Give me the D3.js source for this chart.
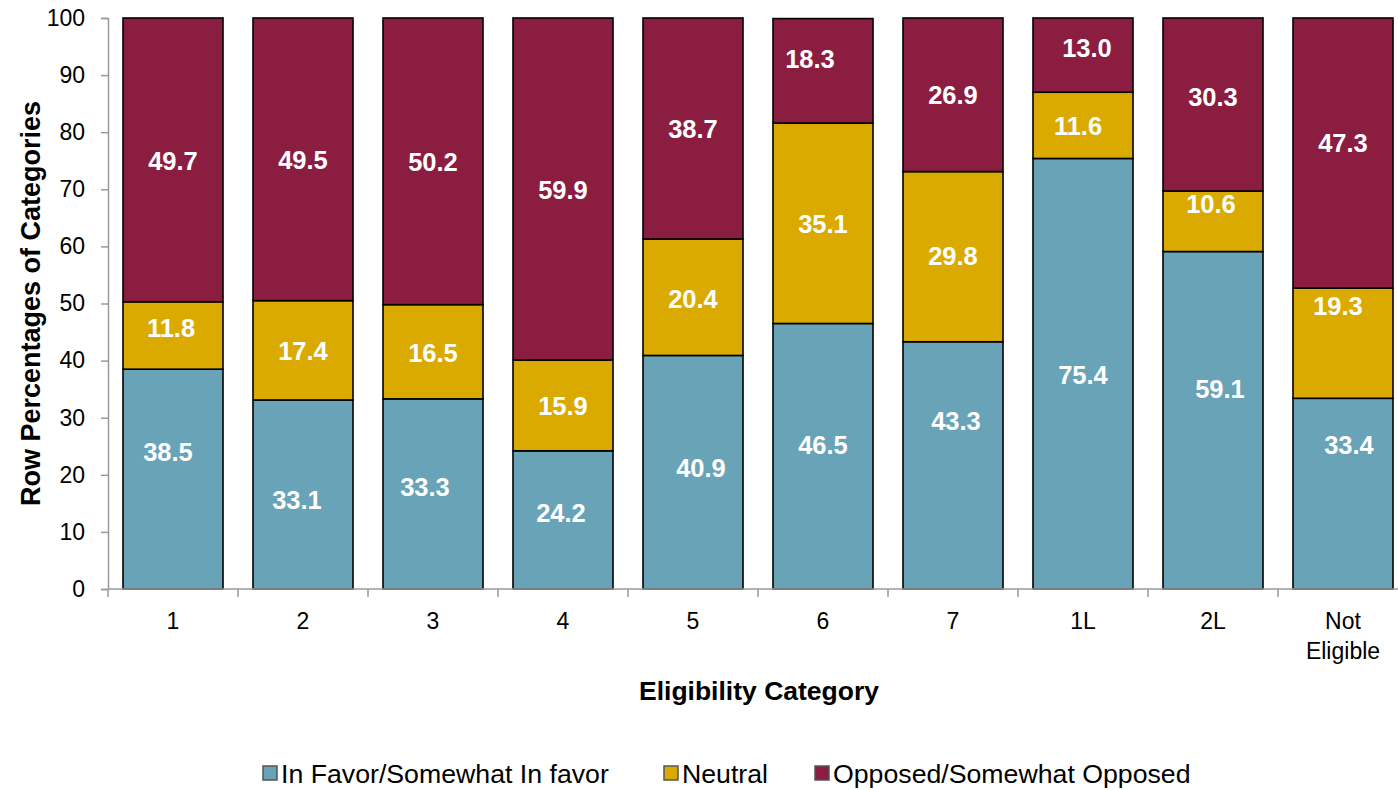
<!DOCTYPE html>
<html>
<head>
<meta charset="utf-8">
<script src="https://cdn.jsdelivr.net/npm/d3@7"></script>
<style>
  body { margin: 0; background: #fff; }
  text { font-family: "Liberation Sans", Arial, sans-serif; }
</style>
</head>
<body>
<svg id="chart" width="1398" height="790"></svg>
<script>
// ---- data ----
const categories = ["1", "2", "3", "4", "5", "6", "7", "1L", "2L", "Not Eligible"];
const seriesNames = ["In Favor/Somewhat In favor", "Neutral", "Opposed/Somewhat Opposed"];
const favor   = [38.5, 33.1, 33.3, 24.2, 40.9, 46.5, 43.3, 75.4, 59.1, 33.4];
const neutral = [11.8, 17.4, 16.5, 15.9, 20.4, 35.1, 29.8, 11.6, 10.6, 19.3];
const opposed = [49.7, 49.5, 50.2, 59.9, 38.7, 18.3, 26.9, 13.0, 30.3, 47.3];
// where each data label sits (value units)
const favorLabelAt   = [24.0, 15.6, 17.9, 13.3, 21.2, 25.2, 29.4, 37.5, 35.0, 25.2];
const neutralLabelAt = [45.7, 41.7, 41.3, 32.0, 50.8, 63.9, 58.3, 81.1, 67.4, 49.6];
const opposedLabelAt = [75.0, 75.1, 74.8, 69.9, 80.6, 92.8, 86.5, 94.7, 86.2, 78.1];
const favorLabelDx   = [-5, -6, -8, -2, 8, 0, 3, 0, 7, 6];
const neutralLabelDx = [-2, 0, 0, 0, 0, 0, 0, -5, -2, -5];
const opposedLabelDx = [0, 0, 0, 0, 0, -13, 0, 4, 0, 0];
const yTicks = [0, 10, 20, 30, 40, 50, 60, 70, 80, 90, 100];
const colors = ["#68A3B8", "#DBAA00", "#8B1D41"];

// ---- layout ----
const svg = d3.select("#chart");
const mLeft = 108, mRight = 1408, mTop = 18, mBottom = 589;

const x = d3.scaleBand().domain(categories).range([mLeft, mRight])
  .paddingInner(30 / 130).paddingOuter(15 / 130);
const y = d3.scaleLinear().domain([0, 100]).range([mBottom, mTop]);

const rows = categories.map((c, i) => ({ cat: c, favor: favor[i], neutral: neutral[i], opposed: opposed[i] }));
const keys = ["favor", "neutral", "opposed"];
const stack = d3.stack().keys(keys)(rows);
const labelAt = [favorLabelAt, neutralLabelAt, opposedLabelAt];
const labelDx = [favorLabelDx, neutralLabelDx, opposedLabelDx];

// bars
stack.forEach((layer, li) => {
  svg.append("g").selectAll("rect").data(layer).join("rect")
    .attr("x", d => x(d.data.cat))
    .attr("y", d => y(d[1]))
    .attr("width", x.bandwidth())
    .attr("height", d => y(d[0]) - y(d[1]))
    .attr("fill", colors[li])
    .attr("stroke", "#000")
    .attr("stroke-width", 1.6);
});

// axes
const yAxis = svg.append("g").attr("transform", `translate(${mLeft},0)`)
  .call(d3.axisLeft(y).tickValues(yTicks).tickSize(7).tickPadding(16).tickFormat(d3.format("d")));
yAxis.select(".domain").attr("stroke", "#9a9a9a").attr("stroke-width", 1.5);
yAxis.selectAll(".tick line").attr("stroke", "#9a9a9a").attr("stroke-width", 1.5);
yAxis.selectAll(".tick text").attr("font-size", 23).attr("fill", "#000")
  .style("font-family", "'Liberation Sans', Arial, sans-serif");

// x axis baseline
svg.append("line").attr("x1", mLeft).attr("x2", mRight).attr("y1", mBottom).attr("y2", mBottom)
  .attr("stroke", "#9a9a9a").attr("stroke-width", 1.5);
// boundary ticks
const bounds = categories.map(c => x(c) - x.step() * x.paddingOuter()).concat([mRight]);
svg.append("g").selectAll("line").data(bounds).join("line")
  .attr("x1", d => d).attr("x2", d => d).attr("y1", mBottom).attr("y2", mBottom + 8)
  .attr("stroke", "#9a9a9a").attr("stroke-width", 1.5);

// x tick labels
const xl = svg.append("g").selectAll("text").data(categories).join("text")
  .attr("x", d => x(d) + x.bandwidth() / 2)
  .attr("y", 629)
  .attr("text-anchor", "middle")
  .attr("font-size", 23)
  .attr("fill", "#000");
xl.each(function(d) {
  const parts = d.split(" ");
  const t = d3.select(this);
  parts.forEach((p, i) => {
    t.append("tspan").attr("x", x(d) + x.bandwidth() / 2).attr("dy", i === 0 ? 0 : 30).text(p);
  });
});

// data labels
stack.forEach((layer, li) => {
  svg.append("g").selectAll("text").data(layer).join("text")
    .attr("x", (d, i) => x(d.data.cat) + x.bandwidth() / 2 + labelDx[li][i])
    .attr("y", (d, i) => y(labelAt[li][i]))
    .attr("dy", "0.36em")
    .attr("text-anchor", "middle")
    .attr("font-size", 25.5)
    .attr("font-weight", "bold")
    .attr("fill", "#fff")
    .text(d => d3.format(".1f")(d[1] - d[0]));
});

// axis titles
svg.append("text")
  .attr("transform", `translate(30,${(mTop + mBottom) / 2}) rotate(-90)`)
  .attr("text-anchor", "middle").attr("dy", "0.36em")
  .attr("font-size", 27).attr("font-weight", "bold").attr("fill", "#000")
  .text("Row Percentages of Categories");
svg.append("text")
  .attr("x", 759).attr("y", 690).attr("dy", "0.36em")
  .attr("text-anchor", "middle")
  .attr("font-size", 26.5).attr("font-weight", "bold").attr("fill", "#000")
  .text("Eligibility Category");

// legend
const legendX = [263, 664, 815];
const lg = svg.append("g").selectAll("g").data(seriesNames).join("g")
  .attr("transform", (d, i) => `translate(${legendX[i]},773)`);
lg.append("rect").attr("x", 0).attr("y", -7).attr("width", 14).attr("height", 14)
  .attr("fill", (d, i) => colors[i]).attr("stroke", "#555").attr("stroke-width", 1.5);
lg.append("text").attr("x", 18).attr("dy", "0.36em")
  .attr("font-size", 26.7).attr("fill", "#000").text(d => d);
</script>
</body>
</html>
